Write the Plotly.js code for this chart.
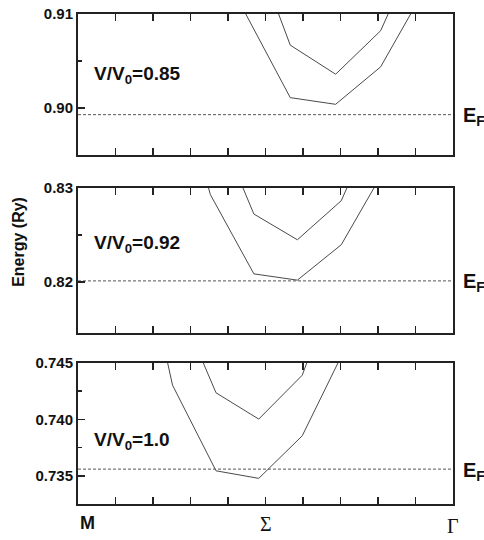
<!DOCTYPE html>
<html>
<head>
<meta charset="utf-8">
<script src="https://cdn.plot.ly/plotly-3.0.1.min.js"></script>
<style>html,body{margin:0;padding:0;background:#fff;}#chart{width:484px;height:540px;}</style>
</head>
<body>
<div id="chart"></div>
<script>
// ---- data ----
// V/V0 = 0.85 (top panel)
var k85 = [4.46, 5.66, 6.87, 8.07, 9.27];
var b85Lower = [0.9101, 0.90111, 0.90040, 0.90438, 0.9128];
var b85Upper = [0.9195, 0.90669, 0.90360, 0.90822, 0.9189];
var ef85 = 0.8993;

// V/V0 = 0.92 (middle panel)
var k92Lower = [2.37, 3.53, 4.69, 5.85, 7.02, 8.18];
var b92Lower = [0.8458, 0.82929, 0.82085, 0.82018, 0.82395, 0.8320];
var k92Upper = [3.53, 4.69, 5.85, 7.02, 8.18];
var b92Upper = [0.8383, 0.82722, 0.82448, 0.82864, 0.8391];
var ef92 = 0.8201;

// V/V0 = 1.0 (bottom panel)
var k100Lower = [1.36, 2.52, 3.68, 4.82, 5.98, 7.14];
var b100Lower = [0.7606, 0.74303, 0.73544, 0.73477, 0.73854, 0.7464];
var k100Upper = [2.52, 3.68, 4.82, 5.98, 7.14];
var b100Upper = [0.7514, 0.74235, 0.74002, 0.74391, 0.7544];
var ef100 = 0.73559;

var kRange = [0, 10];
var panelLabels = ["V/V<sub>0</sub>=0.85", "V/V<sub>0</sub>=0.92", "V/V<sub>0</sub>=1.0"];
var kLabels = ["M", "Σ", "Γ"];
var kLabelPos = [0, 5, 10];

var yTicks85 = [0.90, 0.91], yText85 = ["0.90", "0.91"], yMinor85 = [0.905];
var yTicks92 = [0.82, 0.83], yText92 = ["0.82", "0.83"], yMinor92 = [0.825];
var yTicks100 = [0.735, 0.740, 0.745], yText100 = ["0.735", "0.740", "0.745"], yMinor100 = [0.7375, 0.7425];

// ---- styles ----
var bandLine = {color: '#4a4a4a', width: 1};
var efLine = {color: '#555', width: 1, dash: '3px,2px'};
var FONT = 'Liberation Sans, Arial, sans-serif';

function band(x, y, xa, ya) {
  return {x: x, y: y, xaxis: xa, yaxis: ya, mode: 'lines', line: bandLine, hoverinfo: 'skip', showlegend: false};
}
function ef(v, xa, ya) {
  return {x: kRange, y: [v, v], xaxis: xa, yaxis: ya, mode: 'lines', line: efLine, hoverinfo: 'skip', showlegend: false};
}

var data = [
  band(k85, b85Lower, 'x3', 'y3'), band(k85, b85Upper, 'x3', 'y3'), ef(ef85, 'x3', 'y3'),
  band(k92Lower, b92Lower, 'x2', 'y2'), band(k92Upper, b92Upper, 'x2', 'y2'), ef(ef92, 'x2', 'y2'),
  band(k100Lower, b100Lower, 'x', 'y'), band(k100Upper, b100Upper, 'x', 'y'), ef(ef100, 'x', 'y')
];

function xax(anchor) {
  return {anchor: anchor, range: kRange, showline: true, linewidth: 2, linecolor: '#222', mirror: 'ticks',
    ticks: 'inside', tick0: 0, dtick: 1, ticklen: 7, tickwidth: 1.5, tickcolor: '#222',
    showticklabels: false, showgrid: false, zeroline: false, fixedrange: true};
}
function yax(anchor, domain, range, tv, tt, minor) {
  return {anchor: anchor, domain: domain, range: range, showline: true, linewidth: 2, linecolor: '#222', mirror: true,
    ticks: 'inside', tickmode: 'array', tickvals: tv, ticktext: tt, ticklen: 7, tickwidth: 1.5, tickcolor: '#222',
    minor: {tickmode: 'array', tickvals: minor, ticks: 'inside', ticklen: 4, tickwidth: 1.5, tickcolor: '#222'},
    tickfont: {family: FONT, size: 15, color: '#111', weight: 700},
    showgrid: false, zeroline: false, fixedrange: true};
}

var annotations = [];
var efY = [ef85, ef92, ef100];
var yRefs = ['y3', 'y2', 'y'];
var xRefs = ['x3', 'x2', 'x'];
var labelAt = [0.9035, 0.8240, 0.7381];
for (var j = 0; j < 3; j++) {
  annotations.push({text: '<b>' + panelLabels[j] + '</b>', xref: xRefs[j], yref: yRefs[j],
    x: 0.36, y: labelAt[j], xanchor: 'left', yanchor: 'middle', showarrow: false,
    font: {family: FONT, size: 19, color: '#111'}});
  annotations.push({text: '<b>E<sub>F</sub></b>', xref: 'paper', yref: yRefs[j],
    x: 1.0, xshift: 8, y: efY[j], yshift: -2, xanchor: 'left', yanchor: 'middle', showarrow: false,
    font: {family: FONT, size: 20, color: '#111'}});
}
// k-point labels
annotations.push({text: '<b>' + kLabels[0] + '</b>', xref: 'x', yref: 'paper', x: kLabelPos[0], y: 0, yshift: -19,
  xanchor: 'left', yanchor: 'middle', showarrow: false, font: {family: FONT, size: 18, color: '#111'}});
annotations.push({text: kLabels[1], xref: 'x', yref: 'paper', x: kLabelPos[1], y: 0, yshift: -20,
  xanchor: 'center', yanchor: 'middle', showarrow: false, font: {family: 'Liberation Serif, Times New Roman, serif', size: 20, color: '#111'}});
annotations.push({text: kLabels[2], xref: 'x', yref: 'paper', x: kLabelPos[2], y: 0, yshift: -22,
  xanchor: 'center', yanchor: 'middle', showarrow: false, font: {family: 'Liberation Serif, Times New Roman, serif', size: 20, color: '#111'}});
// y title
annotations.push({text: '<b>Energy (Ry)</b>', xref: 'paper', yref: 'paper', x: 0, xshift: -59, y: 0.535,
  xanchor: 'center', yanchor: 'middle', textangle: -90, showarrow: false, font: {family: FONT, size: 16, color: '#111'}});

var layout = {
  width: 484, height: 540,
  margin: {l: 78, r: 31, t: 14, b: 36},
  paper_bgcolor: '#fff', plot_bgcolor: '#fff',
  showlegend: false,
  xaxis: xax('y'), xaxis2: xax('y2'), xaxis3: xax('y3'),
  yaxis: yax('x', [0, 0.288], [0.7325, 0.745], yTicks100, yText100, yMinor100),
  yaxis2: yax('x2', [0.348, 0.645], [0.8145, 0.830], yTicks92, yText92, yMinor92),
  yaxis3: yax('x3', [0.712, 1], [0.895, 0.910], yTicks85, yText85, yMinor85),
  annotations: annotations
};

Plotly.newPlot('chart', data, layout, {staticPlot: true, displayModeBar: false});
</script>
</body>
</html>
